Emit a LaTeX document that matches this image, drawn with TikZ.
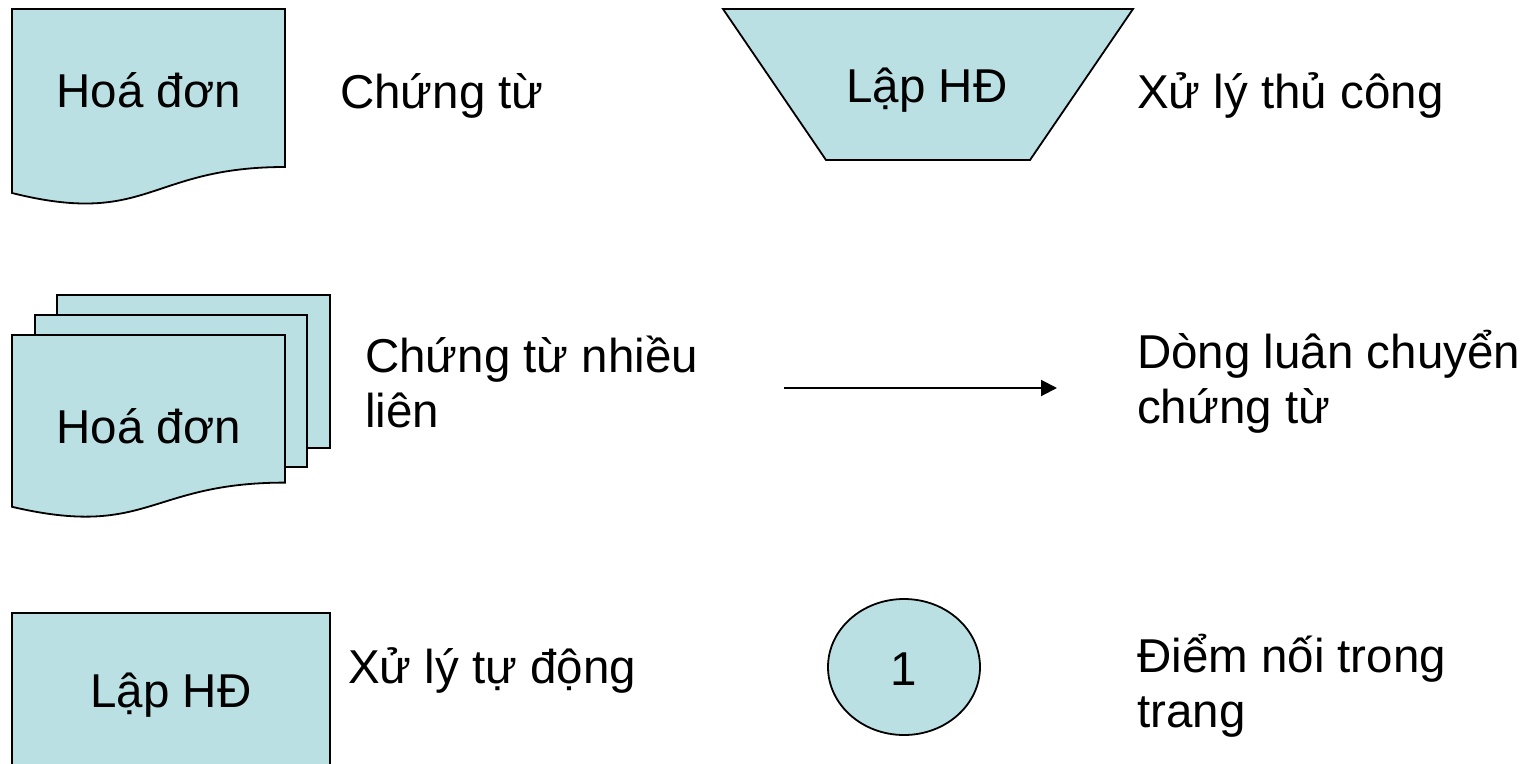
\documentclass[tikz,border=0pt]{standalone}
\usepackage{fontspec}
\setmainfont{Liberation Sans}
\usetikzlibrary{arrows.meta}
\definecolor{shapefill}{HTML}{BBE0E3}
\tikzset{
  shapebox/.style={draw=black, fill=shapefill, line width=1.8pt, line join=miter},
  lbl/.style={inner sep=0pt, font=\fontsize{47.5}{55}\selectfont},
  flowarrow/.style={line width=2pt, -{Triangle[length=16pt,width=16pt]}}
}
\begin{document}
\begin{tikzpicture}[x=1pt,y=-1pt]
\useasboundingbox (0,0) rectangle (1528,763);
% Row 1: document
\draw[shapebox] (12,9) -- (285,9) -- (285,167) .. controls (148.5,167) and (148.5,227.2) .. (12,193) -- cycle;
\node[lbl, anchor=base] (doc1) at (148.5,107) {Hoá đơn};
\node[lbl, anchor=base west] (doc1lbl) at (340,108) {Chứng từ};
% Row 1: manual operation (trapezoid)
\draw[shapebox] (723,9) -- (1133,9) -- (1030,160) -- (826,160) -- cycle;
\node[lbl, anchor=base] (manual) at (927,102) {Lập HĐ};
\node[lbl, anchor=base west] (manuallbl) at (1137,108) {Xử lý thủ công};
% Row 2: multi-document
\draw[shapebox] (57,295) rectangle (330,448);
\draw[shapebox] (35,315) rectangle (307,467);
\draw[shapebox] (12,335) -- (285,335) -- (285,482.6) .. controls (148.5,482.6) and (148.5,538.8) .. (12,506.8) -- cycle;
\node[lbl, anchor=base] (multidoc) at (148.5,443) {Hoá đơn};
\node[lbl, anchor=base west] (multilbl1) at (365,372) {Chứng từ nhiều};
\node[lbl, anchor=base west] (multilbl2) at (365,427) {liên};
% Row 2: flow arrow
\coordinate (fa) at (784,388);
\coordinate (fb) at (1057,388);
\draw[flowarrow] (fa) -- (fb);
\node[lbl, anchor=base west] (flowlbl1) at (1137,368) {Dòng luân chuyển};
\node[lbl, anchor=base west] (flowlbl2) at (1137,423) {chứng từ};
% Row 3: process
\draw[shapebox] (12,613) rectangle (330,780);
\node[lbl, anchor=base] (proc) at (171,707) {Lập HĐ};
\node[lbl, anchor=base west] (proclbl) at (348,683) {Xử lý tự động};
% Row 3: connector
\draw[shapebox] (904,667) ellipse [x radius=76, y radius=68];
\node[lbl, anchor=base] (conn) at (904,685) {1};
\node[lbl, anchor=base west] (connlbl1) at (1137,672) {Điểm nối trong};
\node[lbl, anchor=base west] (connlbl2) at (1137,727) {trang};
\end{tikzpicture}
\end{document}
